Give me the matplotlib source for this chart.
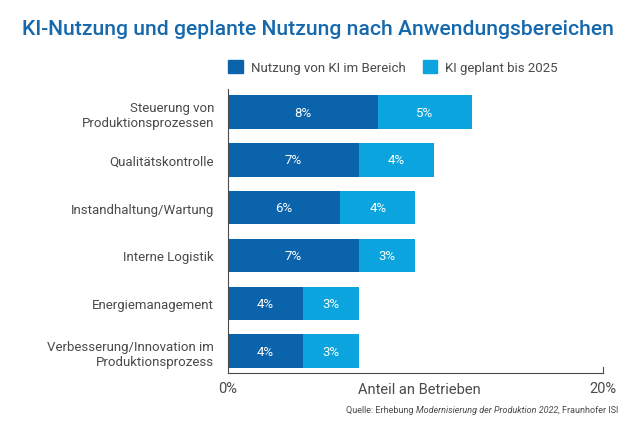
import numpy as np
import matplotlib.pyplot as plt
from matplotlib.patches import Patch

plt.rcParams['font.family'] = ['Roboto', 'DejaVu Sans']

# data
categories = ['Steuerung von\nProduktionsprozessen', 'Qualitätskontrolle',
              'Instandhaltung/Wartung', 'Interne Logistik',
              'Energiemanagement', 'Verbesserung/Innovation im\nProduktionsprozess']
nutzung = [8, 7, 6, 7, 4, 4]   # Nutzung von KI im Bereich, %
geplant = [5, 4, 4, 3, 3, 3]   # KI geplant bis 2025, %
series_names = ['Nutzung von KI im Bereich', 'KI geplant bis 2025']

dark = '#0b63ac'
light = '#0ba4df'
grey = '#4a4a4a'

fig = plt.figure(figsize=(6.4, 4.27), dpi=100)
ax = fig.add_axes([0.356, 0.124, 0.586, 0.665])

y = np.arange(len(categories))
ax.barh(y, nutzung, height=0.7, color=dark)
ax.barh(y, geplant, left=nutzung, height=0.7, color=light)

# value labels inside the bars
for i in range(len(categories)):
    ax.text(nutzung[i] / 2, y[i], '%d%%' % nutzung[i], ha='center', va='center',
            color='white', fontsize=9.5)
    ax.text(nutzung[i] + geplant[i] / 2, y[i], '%d%%' % geplant[i], ha='center',
            va='center', color='white', fontsize=9.5)

ax.set_xlim(0, 20)
ax.set_ylim(len(categories) - 0.54, -0.48)
ax.set_yticks(y)
ax.set_yticklabels(categories, fontsize=9.5, color=grey, linespacing=1.25)
ax.tick_params(axis='y', length=0, pad=10)
ax.set_xticks([0, 20])
ax.set_xticklabels(['0%', '20%'], fontsize=10.5, color=grey)
ax.tick_params(axis='x', length=0, pad=6)
ax.text(10.2, -0.03, 'Anteil an Betrieben', transform=ax.get_xaxis_transform(),
        ha='center', va='top', fontsize=10.5, color=grey)
# small tick at the right end of the x axis
ax.plot([20, 20], [0, 0.02], transform=ax.get_xaxis_transform(), color=grey,
        lw=0.8, clip_on=False)

for s in ['top', 'right']:
    ax.spines[s].set_visible(False)
for s in ['left', 'bottom']:
    ax.spines[s].set_color(grey)
    ax.spines[s].set_linewidth(0.8)

fig.text(0.034, 0.93, 'KI-Nutzung und geplante Nutzung nach Anwendungsbereichen',
         fontsize=15.2, color='#1769ad', fontweight='medium', va='center')

handles = [Patch(color=dark), Patch(color=light)]
fig.legend(handles, series_names, loc='center left', bbox_to_anchor=(0.338, 0.84),
           ncol=2, frameon=False, fontsize=9.5, labelcolor=grey, handlelength=1.1,
           handleheight=1.1, handletextpad=0.6, columnspacing=1.3)

# source line, middle part in italics
t1 = fig.text(0.541, 0.033, 'Quelle: Erhebung ', fontsize=6.5, color=grey)
t2 = ax.annotate('Modernisierung der Produktion 2022', xy=(1, 0), xycoords=t1,
                 va='bottom', fontsize=6.5, color=grey, style='italic')
t3 = ax.annotate(', Fraunhofer ISI', xy=(1, 0), xycoords=t2, va='bottom',
                 fontsize=6.5, color=grey)

fig.savefig('out.png', dpi=100)
